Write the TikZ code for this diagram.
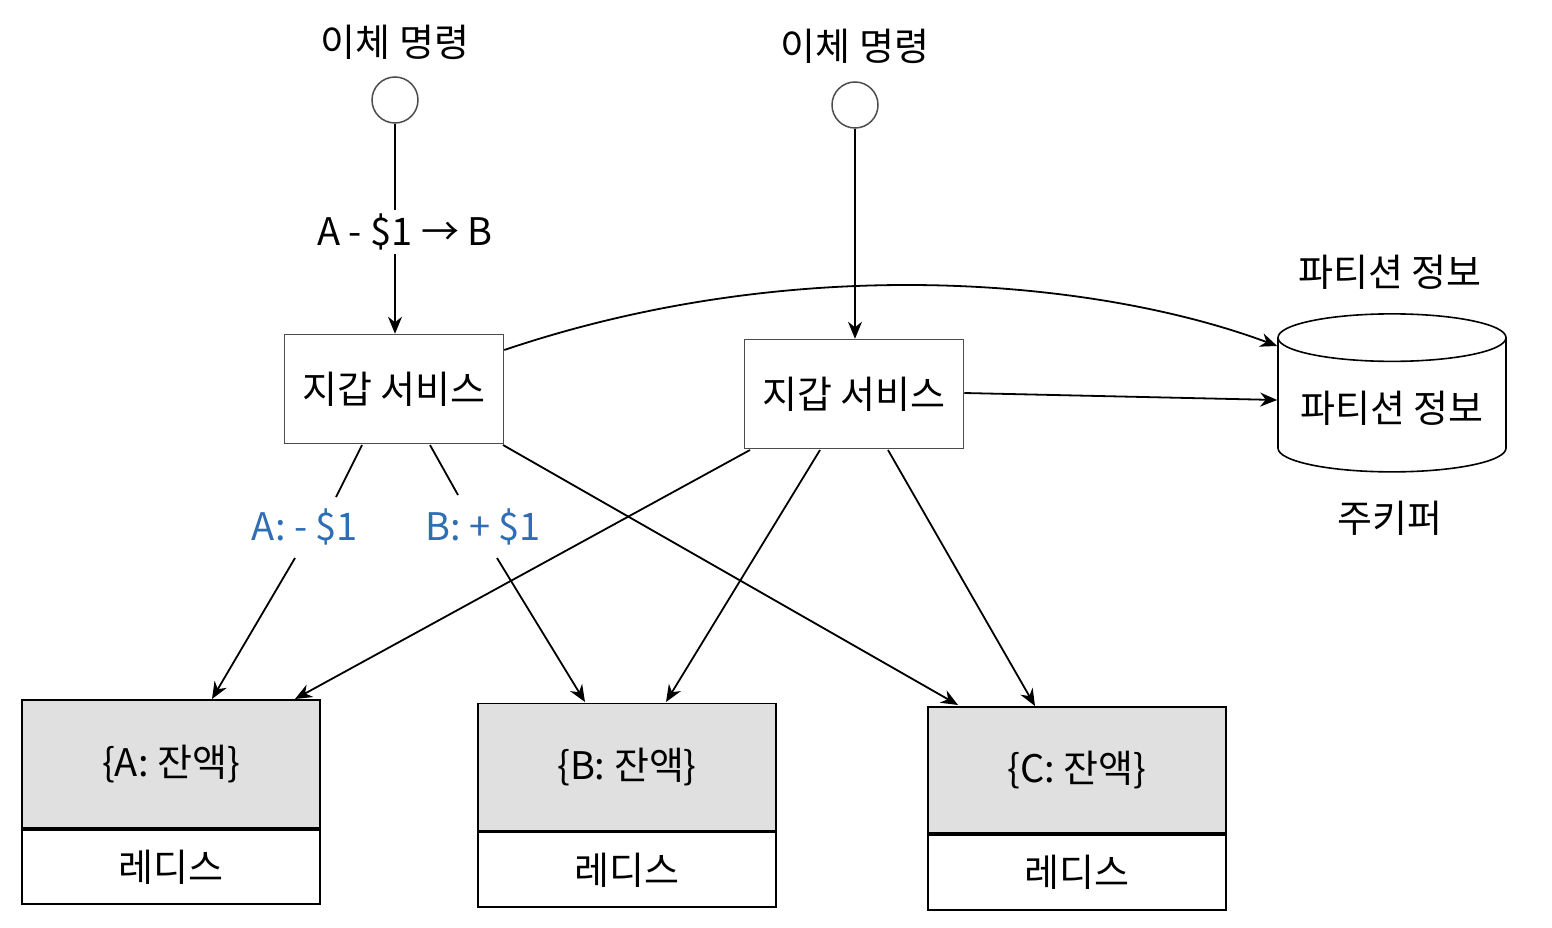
\documentclass[tikz,border=0pt]{standalone}
\usepackage{fontspec}
\setmainfont{Noto Sans CJK KR}
\usetikzlibrary{shapes.geometric,arrows.meta}
\definecolor{lblue}{HTML}{2F6DB5}
\definecolor{gfill}{HTML}{E0E0E0}
\begin{document}
\begin{tikzpicture}[x=1pt,y=-1pt,
  txt/.style={font=\fontsize{38}{42}\selectfont},
  box/.style={draw=black!70,line width=1.5pt,minimum width=219pt,minimum height=109pt,txt,fill=white},
  circ/.style={draw=black!70,circle,line width=1.5pt,minimum size=46pt,inner sep=0pt},
  arr/.style={-{Stealth[length=17pt,width=14pt]},line width=1.8pt},
  ln/.style={line width=1.8pt},
  top/.style={draw=black,line width=1.8pt,fill=gfill,minimum width=298pt,txt},
  bot/.style={draw=black,line width=1.8pt,fill=white,minimum width=298pt,txt},
  blbl/.style={txt,text=lblue}]
\useasboundingbox (0,0) rectangle (1552,928);
\node[txt] (t1) at (395,42) {이체 명령};
\node[txt] (t2) at (855,46) {이체 명령};
\node[circ] (c1) at (395,100) {};
\node[circ] (c2) at (855,105) {};
\node[txt] (m1) at (405,232) {A - \$1 → B};
\node[box] (w1) at (394,389) {지갑 서비스};
\node[box] (w2) at (854,394) {지갑 서비스};
\node[shape=cylinder,shape border rotate=90,aspect=0.25,draw=black,line width=1.6pt,minimum width=228pt,minimum height=158pt,txt] (zk) at (1392,408) {파티션 정보};
\node[txt] (zl) at (1390,272) {파티션 정보};
\node[txt] (zb) at (1390,518) {주키퍼};
% redis
\node[top,minimum height=128pt] (ra) at (171,764) {\{A: 잔액\}};
\node[bot,minimum height=74pt,anchor=north] (rba) at (ra.south) {레디스};
\node[top,minimum height=127pt] (rb) at (627,767) {\{B: 잔액\}};
\node[bot,minimum height=75pt,anchor=north] (rbb) at (rb.south) {레디스};
\node[top,minimum height=126pt] (rc) at (1077,770) {\{C: 잔액\}};
\node[bot,minimum height=75pt,anchor=north] (rbc) at (rc.south) {레디스};
\node[blbl] (la) at (305,527) {A: - \$1};
\node[blbl] (lb) at (483,527) {B: + \$1};
% connectors
\draw[ln] (c1) -- (c1 |- m1.north);
\draw[arr] (c1 |- m1.south) -- (c1 |- w1.north);
\draw[arr] (c2) -- (c2 |- w2.north);
\draw[arr] (w1.east |- 0,350) .. controls (800,250) and (1100,280) .. (zk.west |- 0,346);
\draw[arr] (w2.east |- 0,393) -- (zk.west |- 0,400);
\draw[ln] (362,445) -- (336,497);
\draw[arr] (295,558) -- (212,699);
\draw[ln] (430,445) -- (458,495);
\draw[arr] (497,558) -- (585,702);
\draw[arr] (503,445) -- (958,705);
\draw[arr] (750,450) -- (295,699);
\draw[arr] (820,450) -- (666,702);
\draw[arr] (888,450) -- (1035,706);
\end{tikzpicture}
\end{document}
